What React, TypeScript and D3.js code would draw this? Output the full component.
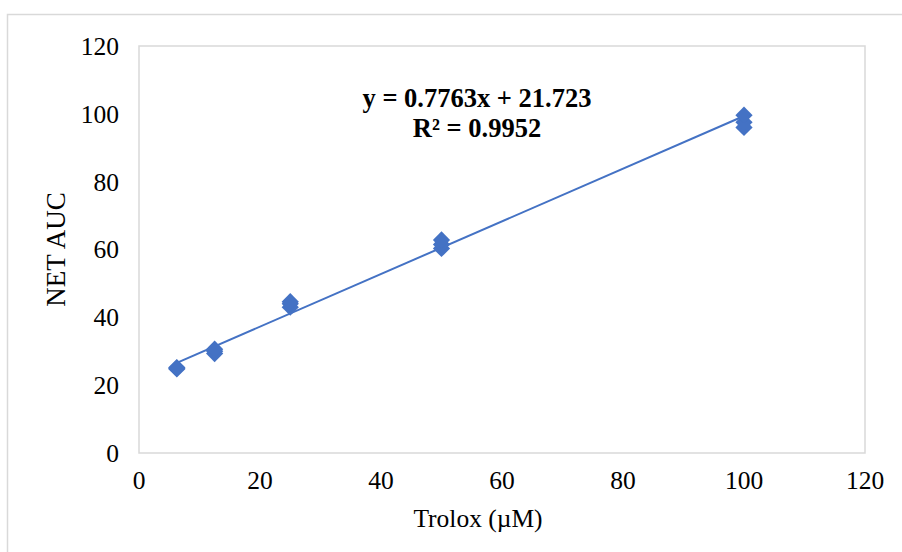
import React from "react";
import * as d3 from "d3";

const xValues = [6.25, 6.25, 6.25, 12.5, 12.5, 12.5, 25, 25, 25, 50, 50, 50, 100, 100, 100];
const yValues = [24.8, 25.0, 25.2, 29.3, 30.0, 30.6, 43.0, 44.0, 44.6, 60.3, 61.5, 62.8, 96.0, 97.5, 99.6];
const xTicks = [0, 20, 40, 60, 80, 100, 120];
const yTicks = [0, 20, 40, 60, 80, 100, 120];
const slope = 0.7763;
const intercept = 21.723;
const equationText = "y = 0.7763x + 21.723";
const r2Text = "0.9952";
const xTitle = "Trolox (µM)";
const yTitle = "NET AUC";

const W = 902;
const H = 552;
const FONT = "'Liberation Serif', 'Times New Roman', serif";
const BLUE = "#4472C4";
const GRID = "#D9D9D9";

export default function App() {
  const x = d3.scaleLinear().domain([0, 120]).range([139, 865]);
  const y = d3.scaleLinear().domain([0, 120]).range([453, 46]);
  const diamond = d3.symbol().type(d3.symbolDiamond2).size(190)() as string;
  const xMin = d3.min(xValues) as number;
  const xMax = d3.max(xValues) as number;
  const line = d3.line<number>().x((v) => x(v)).y((v) => y(slope * v + intercept));

  return (
    <svg width={W} height={H} style={{ position: "absolute", left: 0, top: 0, background: "#fff" }}>
      <rect x={7.5} y={14.5} width={W + 10} height={H + 10} fill="#fff" stroke={GRID} strokeWidth={1.5} />
      <rect x={x(0)} y={y(120)} width={x(120) - x(0)} height={y(0) - y(120)} fill="none" stroke={GRID} strokeWidth={1.5} />
      {yTicks.map((t) => (
        <text key={"y" + t} x={119} y={y(t)} dy="0.35em" textAnchor="end" fontFamily={FONT} fontSize={25.5} fill="#000">
          {t}
        </text>
      ))}
      {xTicks.map((t) => (
        <text key={"x" + t} x={x(t)} y={489} textAnchor="middle" fontFamily={FONT} fontSize={25.5} fill="#000">
          {t}
        </text>
      ))}
      <text x={478} y={527} textAnchor="middle" fontFamily={FONT} fontSize={25.5} fill="#000">
        {xTitle}
      </text>
      <text transform={`translate(65, ${y(60)}) rotate(-90)`} textAnchor="middle" fontFamily={FONT} fontSize={27} fill="#000">
        {yTitle}
      </text>
      <path d={line([xMin, xMax]) as string} stroke={BLUE} strokeWidth={2} fill="none" />
      {xValues.map((xv, i) => (
        <path key={i} d={diamond} transform={`translate(${x(xv)}, ${y(yValues[i])})`} fill={BLUE} />
      ))}
      <text x={477} y={107} textAnchor="middle" fontFamily={FONT} fontSize={26.5} fontWeight="bold" fill="#000">
        {equationText}
      </text>
      <text x={477} y={137} textAnchor="middle" fontFamily={FONT} fontSize={26.5} fontWeight="bold" fill="#000">
        R² = {r2Text}
      </text>
    </svg>
  );
}
